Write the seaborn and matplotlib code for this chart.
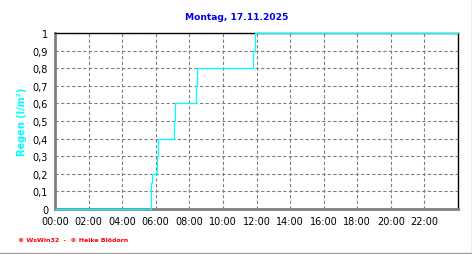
import numpy as np
import pandas as pd
import matplotlib
matplotlib.use("Agg")
import matplotlib.pyplot as plt
import seaborn as sns
from matplotlib.lines import Line2D
from matplotlib.ticker import MultipleLocator

# Data (hours of day, cumulative rain l/m²)
hours = [0.0, 5.72, 5.78, 6.06, 6.12, 7.08, 7.14, 8.42, 8.48, 11.80, 11.92, 24.0]
rain = [0.0, 0.15, 0.2, 0.3, 0.4, 0.5, 0.6, 0.7, 0.8, 0.9, 1.0, 1.0]
x_ticks = list(range(0, 24, 2))
x_tick_labels = [f"{h:02d}:00" for h in x_ticks]
y_ticks = [0, 0.1, 0.2, 0.3, 0.4, 0.5, 0.6, 0.7, 0.8, 0.9, 1.0]
y_tick_labels = ["0", "0,1", "0,2", "0,3", "0,4", "0,5", "0,6", "0,7", "0,8", "0,9", "1"]
title = "Montag, 17.11.2025"
ylabel = "Regen (l/m²)"
footer = "© WsWin32  -  © Heike Blödorn"

sns.set_style("white")
plt.rcParams['font.family'] = ['DejaVu Sans']

df = pd.DataFrame({"h": hours, "r": rain})

fig = plt.figure(figsize=(4.72, 2.55), dpi=100)
ax = fig.add_axes([55/472, 1-210/255, (458-55)/472, (210-34)/255])

sns.lineplot(data=df, x="h", y="r", ax=ax, color="#00ffff", lw=0.9,
             drawstyle="steps-post", zorder=5, clip_on=False)

ax.set_xlim(0, 24)
ax.set_ylim(0, 1)
ax.set_xticks(x_ticks)
ax.set_xticklabels(x_tick_labels, fontsize=7)
ax.set_yticks(y_ticks)
ax.set_yticklabels(y_tick_labels, fontsize=7)
ax.xaxis.set_minor_locator(MultipleLocator(0.5))
ax.yaxis.set_minor_locator(MultipleLocator(0.05))
ax.tick_params(axis="both", which="major", direction="out", length=3, width=0.8,
               color="#808080", pad=2, labelcolor="black")
ax.tick_params(axis="both", which="minor", direction="out", length=2, width=0.8,
               color="#808080")
ax.set_xlabel("")
ax.set_ylabel(ylabel, color="#00ffff", fontsize=7, fontweight="bold", labelpad=4)
ax.grid(True, which="major", color="#808080", linestyle=(0, (3, 2)), lw=0.8)

for s in ["left", "bottom"]:
    ax.spines[s].set_color("#808080")
    ax.spines[s].set_linewidth(2)
for s in ["top", "right"]:
    ax.spines[s].set_color("black")
    ax.spines[s].set_linewidth(1)

fig.text(237/472, 1-18/255, title, ha="center", va="center", color="#0000ee",
         fontsize=6.6, fontweight="bold")
fig.text(18/472, 1-241/255, footer, ha="left", va="center", color="#ff0000",
         fontsize=4.5, fontweight="bold")

# gray frame on right and bottom of figure
fig.add_artist(Line2D([471.5/472, 471.5/472], [0, 1], transform=fig.transFigure,
                      color="#a0a0a0", lw=1))
fig.add_artist(Line2D([0, 1], [1.5/255, 1.5/255], transform=fig.transFigure,
                      color="#a0a0a0", lw=1))

fig.savefig("out.png", dpi=100)
